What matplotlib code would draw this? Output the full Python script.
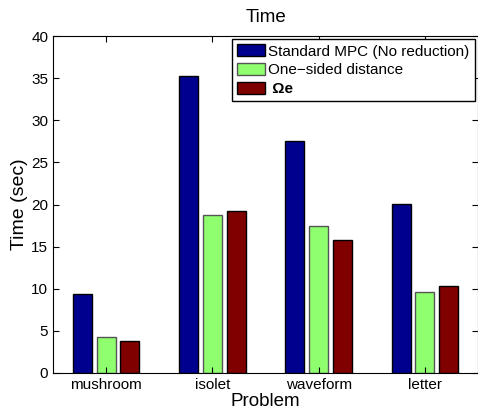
import numpy as np
import matplotlib.pyplot as plt

plt.rcParams['font.family'] = ['Liberation Sans', 'DejaVu Sans']

problems = ['mushroom', 'isolet', 'waveform', 'letter']
standard = [9.35, 35.3, 27.5, 20.1]
one_sided = [4.25, 18.7, 17.4, 9.65]
omega_e = [3.8, 19.2, 15.8, 10.3]
labels = ['Standard MPC (No reduction)', 'One\u2212sided distance', ' \u03a9e']
colors = ['#00008f', '#8fff6f', '#800000']
edges = ['black', '#555555', 'black']

fig = plt.figure(figsize=(4.78, 4.09), dpi=100)
ax = fig.add_axes([53/478, 1 - 373/409, 425/478, 337/409])

x = np.arange(1, len(problems) + 1)
w = 0.178
off = 0.224
for i, (vals, lab) in enumerate(zip([standard, one_sided, omega_e], labels)):
    ax.bar(x + (i - 1) * off, vals, w, color=colors[i], edgecolor=edges[i],
           linewidth=1.0, label=lab)

ax.set_xlim(0.5, 4.5)
ax.set_ylim(0, 40)
ax.set_xticks(x)
ax.set_xticklabels(problems)
ax.set_yticks(range(0, 41, 5))
ax.tick_params(direction='in', top=True, right=True, labelsize=11, length=4)
ax.set_xlabel('Problem', fontsize=13.5, labelpad=1)
ax.set_ylabel('Time (sec)', fontsize=14, labelpad=2)
ax.set_title('Time', fontsize=13.5, pad=10)

leg = ax.legend(loc='upper right', fontsize=11, fancybox=False, framealpha=1,
                edgecolor='black', borderaxespad=0.2, handlelength=1.85,
                handleheight=0.8, handletextpad=0.2, labelspacing=0.3,
                borderpad=0.35)
leg.get_frame().set_linewidth(1.0)
leg.get_texts()[2].set_fontweight('bold')

fig.savefig('out.png', dpi=100)
